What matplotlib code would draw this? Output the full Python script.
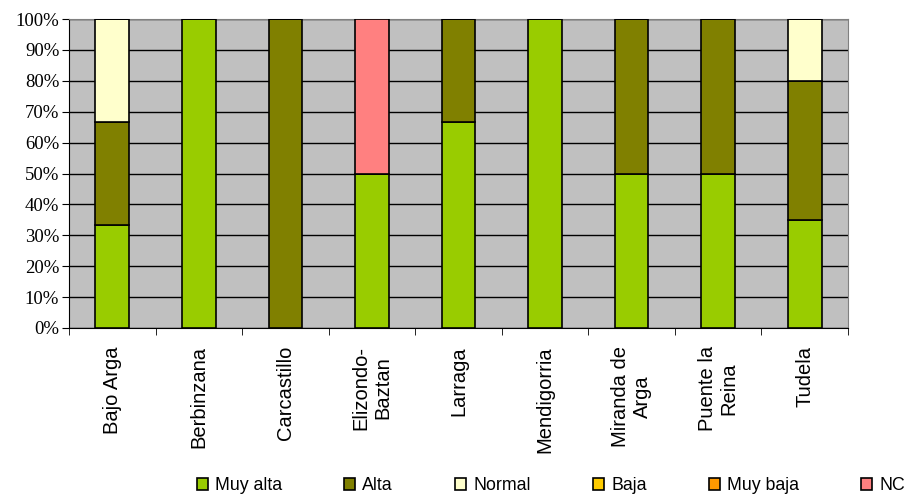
import numpy as np
import matplotlib.pyplot as plt

categorias = ["Bajo Arga", "Berbinzana", "Carcastillo", "Elizondo-\nBaztan", "Larraga",
              "Mendigorria", "Miranda de\nArga", "Puente la\nReina", "Tudela"]
series = ["Muy alta", "Alta", "Normal", "Baja", "Muy baja", "NC"]
muy_alta = [33.3, 100, 0, 50, 66.7, 100, 50, 50, 35]
alta = [33.3, 0, 100, 0, 33.3, 0, 50, 50, 45]
normal = [33.4, 0, 0, 0, 0, 0, 0, 0, 20]
baja = [0, 0, 0, 0, 0, 0, 0, 0, 0]
muy_baja = [0, 0, 0, 0, 0, 0, 0, 0, 0]
nc = [0, 0, 0, 50, 0, 0, 0, 0, 0]
colores = ["#99CC00", "#808000", "#FFFFCC", "#FFCC00", "#FF9900", "#FF8080"]

fig = plt.figure(figsize=(9.06, 4.95), dpi=100)
ax = fig.add_axes([69/906, 1-328/495, 779/906, 309/495])
ax.set_facecolor("#C0C0C0")

x = np.arange(len(categorias))
bottom = np.zeros(len(categorias))
for nombre, vals, col in zip(series, [muy_alta, alta, normal, baja, muy_baja, nc], colores):
    vals = np.array(vals, dtype=float)
    ax.bar(x, vals, 0.39, bottom=bottom, color=col, edgecolor="black", linewidth=1.2,
           label=nombre, zorder=3)
    bottom += vals

ax.set_xlim(-0.5, len(categorias) - 0.5)
ax.set_ylim(0, 100)
ax.set_yticks(np.arange(0, 101, 10))
ax.set_yticklabels([f"{v}%" for v in range(0, 101, 10)], family="Liberation Serif", fontsize=13.5)
ax.yaxis.grid(True, color="black", linewidth=1, zorder=1)
ax.set_axisbelow(True)
ax.tick_params(axis="y", direction="out", length=5, color="black", pad=2)

ax.set_xticks(x)
ax.set_xticklabels(categorias, rotation=90, family="Liberation Sans", fontsize=14.5,
                   ha="center", va="top", multialignment="center")
ax.tick_params(axis="x", which="major", length=0, pad=13)
ax.set_xticks(np.arange(-0.5, len(categorias), 1), minor=True)
ax.tick_params(axis="x", which="minor", direction="out", length=5, color="black")

for s in ["top", "right"]:
    ax.spines[s].set_color("#808080")
for s in ["left", "bottom"]:
    ax.spines[s].set_color("black")

fig.legend(loc="center", bbox_to_anchor=(551/906, 1-486/495), ncol=6, frameon=False,
           prop={"family": "Liberation Sans", "size": 12.8}, handlelength=0.62, handleheight=0.62,
           handletextpad=0.4, columnspacing=3.5, borderpad=0.2)

fig.savefig("out.png", dpi=100)
